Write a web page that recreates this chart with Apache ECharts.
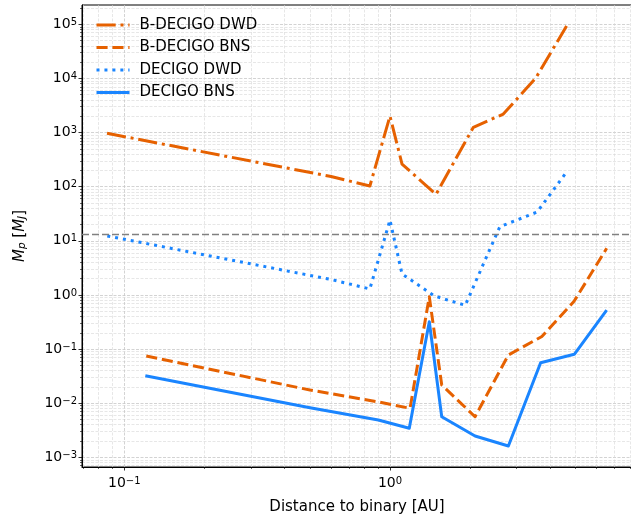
<!DOCTYPE html>
<html><head><meta charset="utf-8">
<script src="https://cdn.jsdelivr.net/npm/echarts@6/dist/echarts.min.js"></script>
<style>html,body{margin:0;padding:0;background:#fff}#c{width:631px;height:516px}</style>
</head><body><div id="c"></div>
<script>
// ---- data ----
const seriesNames = ['B-DECIGO DWD', 'B-DECIGO BNS', 'DECIGO DWD', 'DECIGO BNS'];

const bDecigoDwdX = [0.0861, 0.6, 0.84, 1.0, 1.11, 1.49, 2.06, 2.67, 3.53, 4.62];
const bDecigoDwdY = [970, 154, 103, 2020, 262, 72, 1250, 2200, 10000, 93000];

const bDecigoBnsX = [0.121, 0.5, 0.9, 1.19, 1.406, 1.566, 2.09, 2.79, 3.73, 4.93, 6.54];
const bDecigoBnsY = [0.0745, 0.0175, 0.0106, 0.00804, 0.927, 0.0217, 0.00562, 0.0776, 0.171, 0.762, 7.26];

const decigoDwdX = [0.0863, 0.6, 0.84, 1.0, 1.11, 1.47, 1.92, 2.59, 3.58, 4.56];
const decigoDwdY = [12.3, 1.93, 1.29, 24.2, 2.44, 0.955, 0.643, 18.2, 34, 171];

const decigoBnsX = [0.12, 0.5, 0.904, 1.182, 1.406, 1.566, 2.09, 2.79, 3.69, 4.94, 6.54];
const decigoBnsY = [0.0322, 0.0082, 0.00489, 0.00344, 0.320, 0.00562, 0.00247, 0.00162, 0.056, 0.080, 0.526];

const deuteriumLimit = 13;

// tick values
const xMajorTicks = [0.1, 1];
const xMinorTicks = [0.07, 0.08, 0.09, 0.2, 0.3, 0.4, 0.5, 0.6, 0.7, 0.8, 0.9, 2, 3, 4, 5, 6, 7, 8];
const yMajorTicks = [1e-3, 1e-2, 1e-1, 1, 10, 100, 1e3, 1e4, 1e5];
const yMinorTicks = [];
[-4, -3, -2, -1, 0, 1, 2, 3, 4, 5].forEach(function (e) {
  for (let k = 2; k <= 9; k++) yMinorTicks.push(Number((k * Math.pow(10, e)).toPrecision(3)));
});

const X_MIN = 0.06932, X_MAX = 8.145;
const Y_MIN = 6.62e-4, Y_MAX = 2.274e5;

// ---- chart ----
const FONT = 'DejaVu Sans';
const ORANGE = '#E66100';
const BLUE = '#1A85FF';

function pairs(xs, ys) { return xs.map(function (x, i) { return [x, ys[i]]; }); }
function powLabel(v) {
  const e = Math.round(Math.log10(v));
  const s = e < 0 ? '\u2212' + (-e) : String(e);
  return '{b|10}{sup|' + s + '}';
}
const tickRich = {
  b: { fontFamily: FONT, fontSize: 14, color: '#000', lineHeight: 14, verticalAlign: 'bottom' },
  sup: { fontFamily: FONT, fontSize: 10, color: '#000', lineHeight: 10, padding: [0, 0, 9, 0], verticalAlign: 'top' }
};
const majorGrid = { show: true, lineStyle: { color: '#c8c8c8', width: 0.8, type: [3, 1.5] } };
const minorGrid = { show: true, lineStyle: { color: '#d6d6d6', width: 0.6, type: [3, 1.5] } };

const chart = echarts.init(document.getElementById('c'), null, { renderer: 'canvas' });
const lineBase = { type: 'line', symbol: 'none', showSymbol: false, smooth: false, xAxisIndex: 0, yAxisIndex: 0 };

chart.setOption({
  animation: false,
  backgroundColor: '#fff',
  grid: { left: 82, right: -1, top: 5, bottom: 49, containLabel: false, outerBoundsMode: 'none', show: true, borderColor: '#000', borderWidth: 1, backgroundColor: 'transparent' },
  legend: {
    orient: 'vertical', left: 95, top: 17.5, padding: 0,
    itemWidth: 33, itemHeight: 14, itemGap: 7.5,
    data: seriesNames,
    lineStyle: { width: 3 },
    itemStyle: { color: 'rgba(0,0,0,0)', borderColor: 'rgba(0,0,0,0)', borderWidth: 0, opacity: 0 },
    textStyle: { fontFamily: FONT, fontSize: 15, color: '#000', padding: [0, 0, 0, 5] }
  },
  xAxis: [
    {
      type: 'log', logBase: 10, min: X_MIN, max: X_MAX, position: 'bottom',
      axisLine: { show: true, lineStyle: { color: '#000', width: 1 } },
      axisTick: { show: true, length: 3.5, customValues: xMajorTicks, lineStyle: { color: '#000', width: 0.8 } },
      axisLabel: { show: true, customValues: xMajorTicks, formatter: powLabel, rich: tickRich, margin: 9 },
      splitLine: majorGrid,
      name: 'Distance to binary [AU]', nameLocation: 'middle', nameGap: 33,
      nameTextStyle: { fontFamily: FONT, fontSize: 15, color: '#000' }
    },
    {
      type: 'log', logBase: 10, min: X_MIN, max: X_MAX, position: 'bottom',
      axisLine: { show: false },
      axisTick: { show: true, length: 2, customValues: xMinorTicks, lineStyle: { color: '#000', width: 0.6 } },
      axisLabel: { show: false },
      splitLine: minorGrid
    }
  ],
  yAxis: [
    {
      type: 'log', logBase: 10, min: Y_MIN, max: Y_MAX, position: 'left',
      axisLine: { show: true, lineStyle: { color: '#000', width: 1 } },
      axisTick: { show: true, length: 3.5, customValues: yMajorTicks, lineStyle: { color: '#000', width: 0.8 } },
      axisLabel: { show: true, customValues: yMajorTicks, formatter: powLabel, rich: tickRich, margin: 5 },
      splitLine: majorGrid,
      name: '{i|M}{sub|p}{r| [}{i|M}{sub|J}{r|]}', nameLocation: 'middle', nameRotate: 90, nameGap: 54,
      nameTextStyle: {
        fontFamily: FONT, fontSize: 15, color: '#000',
        rich: {
          i: { fontFamily: FONT, fontSize: 15, fontStyle: 'italic', color: '#000', lineHeight: 15, verticalAlign: 'top' },
          r: { fontFamily: FONT, fontSize: 15, color: '#000', lineHeight: 15, verticalAlign: 'top' },
          sub: { fontFamily: FONT, fontSize: 10.5, fontStyle: 'italic', color: '#000', lineHeight: 10.5, padding: [7, 0, 0, 0], verticalAlign: 'bottom' }
        }
      }
    },
    {
      type: 'log', logBase: 10, min: Y_MIN, max: Y_MAX, position: 'left',
      axisLine: { show: false },
      axisTick: { show: true, length: 2, customValues: yMinorTicks, lineStyle: { color: '#000', width: 0.6 } },
      axisLabel: { show: false },
      splitLine: minorGrid
    }
  ],
  series: [
    Object.assign({}, lineBase, {
      name: seriesNames[0], data: pairs(bDecigoDwdX, bDecigoDwdY), color: ORANGE,
      lineStyle: { color: ORANGE, width: 3, type: [19.2, 4.8, 3, 4.8], join: 'round' }, z: 3
    }),
    Object.assign({}, lineBase, {
      name: seriesNames[1], data: pairs(bDecigoBnsX, bDecigoBnsY), color: ORANGE,
      lineStyle: { color: ORANGE, width: 3, type: [11.1, 4.8], join: 'round' }, z: 3
    }),
    Object.assign({}, lineBase, {
      name: seriesNames[2], data: pairs(decigoDwdX, decigoDwdY), color: BLUE,
      lineStyle: { color: BLUE, width: 3, type: [3, 4.95], join: 'round' }, z: 3
    }),
    Object.assign({}, lineBase, {
      name: seriesNames[3], data: pairs(decigoBnsX, decigoBnsY), color: BLUE,
      lineStyle: { color: BLUE, width: 3, type: 'solid', join: 'round' }, z: 3,
      markLine: {
        silent: true, symbol: 'none', animation: false,
        label: { show: false },
        lineStyle: { color: '#808080', width: 1.3, type: [7, 3] },
        data: [{ yAxis: deuteriumLimit }]
      }
    })
  ]
});
</script>
</body></html>
